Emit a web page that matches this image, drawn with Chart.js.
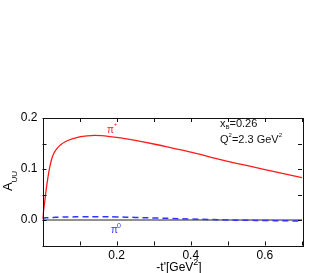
<!DOCTYPE html>
<html>
<head>
<meta charset="utf-8">
<script src="https://cdn.jsdelivr.net/npm/chart.js@4/dist/chart.umd.min.js"></script>
<style>
html,body{margin:0;padding:0;background:#fff;}
#wrap{position:relative;width:333px;height:273px;}
</style>
</head>
<body>
<div id="wrap"><canvas id="c" width="333" height="273"></canvas></div>
<script>
// -t' values (GeV^2)
const tPrime = [0, 0.005, 0.01, 0.015, 0.02, 0.025, 0.03, 0.04, 0.05, 0.06, 0.08, 0.1, 0.12, 0.14, 0.16, 0.2, 0.25, 0.3, 0.35, 0.4, 0.45, 0.5, 0.55, 0.6, 0.65, 0.7];
// A_UU for pi+
const piPlus = [0.003, 0.03, 0.06, 0.085, 0.105, 0.12, 0.13, 0.141, 0.148, 0.153, 0.159, 0.163, 0.165, 0.166, 0.1655, 0.162, 0.156, 0.149, 0.141, 0.133, 0.124, 0.115, 0.107, 0.099, 0.091, 0.083];
// A_UU for pi0
const piZero = [0.004, 0.004, 0.0045, 0.0045, 0.005, 0.005, 0.005, 0.0055, 0.0055, 0.006, 0.006, 0.0065, 0.0065, 0.0065, 0.0065, 0.006, 0.005, 0.004, 0.003, 0.002, 0.001, 0.0, -0.0005, -0.001, -0.0015, -0.002];
const zeroLine = [0, 0];
const zeroX = [0, 0.7];
const yTickLabels = ["0.0", "0.1", "0.2"];
const xTickLabels = ["0.2", "0.4", "0.6"];

const FONT = "Liberation Sans, Arial, sans-serif";

const framePlugin = {
  id: 'frame',
  afterDatasetsDraw(chart) {
    const {ctx, chartArea: a, scales} = chart;
    const xs = scales.x, ys = scales.y;
    ctx.save();
    ctx.strokeStyle = '#111';
    ctx.lineWidth = 1;
    ctx.strokeRect(Math.round(a.left) + 0.5, Math.round(a.top) + 0.5, Math.round(a.right - a.left), Math.round(a.bottom - a.top));
    ctx.beginPath();
    xs.ticks.forEach(t => {
      const x = Math.round(xs.getPixelForValue(t.value)) + 0.5;
      ctx.moveTo(x, a.bottom); ctx.lineTo(x, a.bottom - 4);
      ctx.moveTo(x, a.top); ctx.lineTo(x, a.top + 4);
    });
    ys.ticks.forEach(t => {
      const y = Math.round(ys.getPixelForValue(t.value)) + 0.5;
      ctx.moveTo(a.left, y); ctx.lineTo(a.left + 4, y);
      ctx.moveTo(a.right, y); ctx.lineTo(a.right - 4, y);
    });
    ctx.stroke();

    // annotations
    ctx.textBaseline = 'alphabetic';
    ctx.textAlign = 'left';
    ctx.fillStyle = '#ff1a1a';
    ctx.font = '10px ' + FONT;
    ctx.fillText('\u03c0', 107, 133);
    ctx.font = '6px ' + FONT;
    ctx.fillText('+', 114, 126);
    ctx.fillStyle = '#3333ff';
    ctx.font = '10px ' + FONT;
    ctx.fillText('\u03c0', 111, 233);
    ctx.font = '7px ' + FONT;
    ctx.fillText('0', 117, 228);

    ctx.fillStyle = '#111';
    ctx.font = '11px ' + FONT;
    let x0 = 220;
    ctx.fillText('x', x0, 127);
    let w = ctx.measureText('x').width;
    ctx.font = '6px ' + FONT;
    ctx.fillText('B', x0 + w, 129);
    let w2 = ctx.measureText('B').width;
    ctx.font = '11px ' + FONT;
    ctx.fillText('=0.26', x0 + w + w2, 127);

    ctx.fillText('Q', x0, 143);
    w = ctx.measureText('Q').width;
    ctx.font = '6px ' + FONT;
    ctx.fillText('2', x0 + w, 137);
    w2 = ctx.measureText('2').width;
    ctx.font = '11px ' + FONT;
    const s = '=2.3 GeV';
    ctx.fillText(s, x0 + w + w2, 143);
    const w3 = ctx.measureText(s).width;
    ctx.font = '6px ' + FONT;
    ctx.fillText('2', x0 + w + w2 + w3, 137);

    // x axis title
    ctx.fillStyle = '#000';
    ctx.font = '12px ' + FONT;
    const xt = "-t'[GeV";
    const xtw = ctx.measureText(xt).width;
    ctx.font = '9px ' + FONT;
    const sw = ctx.measureText('2').width;
    ctx.font = '12px ' + FONT;
    const bw = ctx.measureText(']').width;
    let sx = 179 - (xtw + sw + bw) / 2;
    ctx.fillText(xt, sx, 271);
    ctx.font = '9px ' + FONT;
    ctx.fillText('2', sx + xtw, 265);
    ctx.font = '12px ' + FONT;
    ctx.fillText(']', sx + xtw + sw, 271);

    // y axis title
    ctx.save();
    ctx.translate(12, 181);
    ctx.rotate(-Math.PI / 2);
    ctx.font = '13px ' + FONT;
    const aw = ctx.measureText('A').width;
    ctx.font = '8px ' + FONT;
    const uw = ctx.measureText('UU').width;
    const tot = aw + uw;
    ctx.font = '13px ' + FONT;
    ctx.fillText('A', -tot / 2, 0);
    ctx.font = '8px ' + FONT;
    ctx.fillText('UU', -tot / 2 + aw, 5);
    ctx.restore();
    ctx.restore();
  }
};

new Chart(document.getElementById('c'), {
  type: 'line',
  data: {
    datasets: [
      {
        data: zeroX.map((x, i) => ({x, y: zeroLine[i]})),
        borderColor: '#222', borderWidth: 1, pointRadius: 0, order: 3
      },
      {
        data: tPrime.map((x, i) => ({x, y: piZero[i]})),
        borderColor: '#3333ff', borderWidth: 1.5, borderDash: [6, 4], pointRadius: 0, tension: 0.4, order: 2
      },
      {
        data: tPrime.map((x, i) => ({x, y: piPlus[i]})),
        borderColor: '#ff1a1a', borderWidth: 1.3, pointRadius: 0, cubicInterpolationMode: 'monotone', order: 1
      }
    ]
  },
  options: {
    responsive: false,
    animation: false,
    events: [],
    layout: {padding: {left: 0, right: 31, top: 118, bottom: 0}},
    plugins: {legend: {display: false}, tooltip: {enabled: false}},
    scales: {
      x: {
        type: 'linear', min: 0, max: 0.7,
        grid: {display: false, drawTicks: false}, border: {display: false},
        afterFit(s) { s.height = 27.5; },
        ticks: {
          stepSize: 0.1, padding: 3, color: '#000', maxRotation: 0, autoSkip: false,
          font: {family: FONT, size: 12},
          callback(v) {
            const s = v.toFixed(1);
            return xTickLabels.includes(s) ? s : '';
          }
        }
      },
      y: {
        type: 'linear', min: -0.05, max: 0.2,
        grid: {display: false, drawTicks: false}, border: {display: false},
        afterFit(s) { s.width = 42.5; },
        ticks: {
          stepSize: 0.05, padding: 5, color: '#000',
          font: {family: FONT, size: 12},
          callback(v) {
            const s = (Math.abs(v) < 1e-9 ? 0 : v).toFixed(1);
            const exact = Math.abs(v * 10 - Math.round(v * 10)) < 1e-6;
            return exact && yTickLabels.includes(s) ? s : '';
          }
        }
      }
    }
  },
  plugins: [framePlugin]
});
</script>
</body>
</html>
